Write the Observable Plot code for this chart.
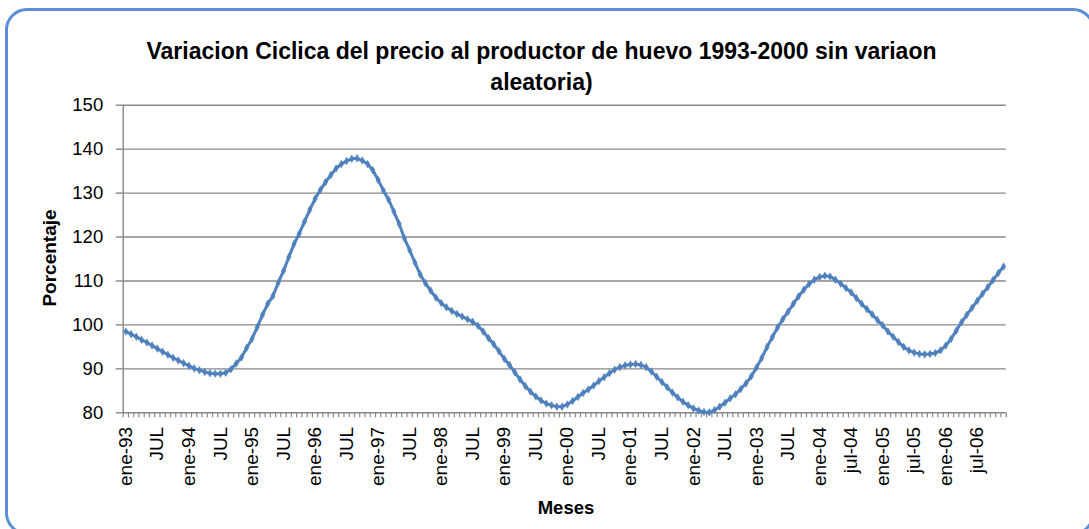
<!DOCTYPE html>
<html>
<head>
<meta charset="utf-8">
<script src="https://cdn.jsdelivr.net/npm/d3@7"></script>
<script src="https://cdn.jsdelivr.net/npm/@observablehq/plot@0.6"></script>
<style>
  html, body { margin: 0; padding: 0; background: #fff; overflow: hidden; }
  #wrap { position: relative; width: 1089px; height: 529px; overflow: hidden; font-family: "Liberation Sans", Arial, sans-serif; }
  #frame { position: absolute; left: 5px; top: 8px; width: 1090px; height: 527px; border: 3.5px solid #5B8ED6; border-radius: 22px; box-sizing: border-box; }
  #chart { position: absolute; left: 0; top: 0; }
  .title { position: absolute; left: 0; width: 1089px; text-align: center; font-weight: bold; font-size: 23px; line-height: 23px; color: #000; white-space: nowrap; }
  #ylab { position: absolute; left: 50px; top: 258px; transform: translate(-50%, -50%) rotate(-90deg); font-weight: bold; font-size: 19px; white-space: nowrap; }
  #xlab { position: absolute; left: 566px; top: 508px; transform: translate(-50%, -50%); font-weight: bold; font-size: 18.5px; white-space: nowrap; }
</style>
</head>
<body>
<div id="wrap">
  <div id="frame"></div>
  <div id="chart"></div>
  <div class="title" style="top:40px; left:-3px">Variacion Ciclica del precio al productor de huevo 1993-2000 sin variaon</div>
  <div class="title" style="top:70.5px; left:-3px">aleatoria)</div>
  <div id="ylab">Porcentaje</div>
  <div id="xlab">Meses</div>
</div>
<script>
// Cyclical variation, one value per month, ene-93 .. dic-06 (168 months)
const values = [
  98.5, 97.9, 97.3, 96.6, 96.0, 95.3, 94.6, 93.9, 93.2, 92.5, 91.9, 91.3,
  90.7, 90.1, 89.7, 89.3, 89.0, 88.9, 88.9, 89.1, 89.9, 91.2, 92.6, 94.8,
  96.8, 99.5, 102.3, 104.8, 106.6, 109.6, 112.3, 115.4, 118.4, 120.8, 123.5, 126.2,
  128.7, 130.7, 132.5, 134.1, 135.6, 136.6, 137.3, 137.8, 137.9, 137.4, 136.6, 135.2,
  133.0, 130.6, 128.5, 125.8, 123.0, 119.7, 117.0, 114.2, 111.5, 109.5, 107.8, 106.2,
  105.0, 104.0, 103.2, 102.5, 101.9, 101.3, 100.7, 99.8, 98.5, 97.0, 95.6, 94.0,
  92.3, 90.9, 89.2, 87.6, 86.1, 84.8, 83.7, 82.8, 82.1, 81.7, 81.4, 81.4,
  81.9, 82.7, 83.6, 84.5, 85.3, 86.2, 87.2, 88.1, 89.0, 89.8, 90.4, 90.8,
  91.0, 91.1, 90.9, 90.4, 89.4, 88.2, 87.0, 85.8, 84.6, 83.5, 82.5, 81.7,
  81.0, 80.5, 80.2, 80.1, 80.6, 81.4, 82.3, 83.3, 84.2, 85.4, 86.7, 88.3,
  90.3, 92.5, 95.0, 97.2, 99.4, 101.3, 103.0, 104.8, 106.5, 108.0, 109.3, 110.3,
  110.9, 111.2, 111.0, 110.3, 109.4, 108.4, 107.4, 106.1, 104.8, 103.6, 102.4, 101.1,
  99.9, 98.5, 97.3, 96.1, 95.0, 94.2, 93.7, 93.4, 93.3, 93.4, 93.6, 94.2,
  95.3, 96.8, 98.7, 100.6, 102.3, 103.9, 105.5, 107.1, 108.6, 110.2, 111.8, 113.3
];
// Labels shown every 6 months
const tickLabels = [
  "ene-93","JUL","ene-94","JUL","ene-95","JUL","ene-96","JUL","ene-97","JUL",
  "ene-98","JUL","ene-99","JUL","ene-00","JUL","ene-01","JUL","ene-02","JUL",
  "ene-03","JUL","ene-04","jul-04","ene-05","jul-05","ene-06","jul-06"
];
const yTicks = [80, 90, 100, 110, 120, 130, 140, 150];

const data = values.map((v, i) => ({i, v}));
const n = values.length;
const labelPos = tickLabels.map((_, k) => k * 6);
const boundaries = d3.range(n + 1).map(k => k - 0.5);

const grid = "#888888";
const blue = "#4F81BD";

const chart = Plot.plot({
  width: 1089,
  height: 529,
  marginLeft: 122.7,
  marginRight: 83.3,
  marginTop: 104.7,
  marginBottom: 116.7,
  style: {fontFamily: "'Liberation Sans', Arial, sans-serif", background: "transparent"},
  x: {type: "linear", domain: [-0.5, n - 0.5]},
  y: {domain: [80, 150]},
  marks: [
    Plot.gridY(yTicks, {stroke: grid, strokeOpacity: 1, strokeWidth: 1.4}),
    Plot.ruleX([-0.5], {stroke: grid, strokeWidth: 1.4}),
    Plot.axisY(yTicks, {tickSize: 7, tickPadding: 13, fontSize: 18.5, stroke: grid, strokeWidth: 1.4, color: "#000", label: null}),
    Plot.axisX(boundaries, {tickSize: 5, tickFormat: () => "", stroke: grid, strokeWidth: 1.2, label: null}),
    Plot.axisX(labelPos, {tickSize: 0, tickPadding: 14, tickRotate: -90, fontSize: 19, color: "#000",
      tickFormat: d => tickLabels[d / 6], label: null}),
    Plot.line(data, {x: "i", y: "v", stroke: blue, strokeWidth: 3}),
    Plot.dot(data, {x: "i", y: "v", symbol: "diamond", r: 2.3, fill: blue, stroke: blue, strokeWidth: 0.5})
  ]
});
document.getElementById("chart").appendChild(chart);
</script>
</body>
</html>
